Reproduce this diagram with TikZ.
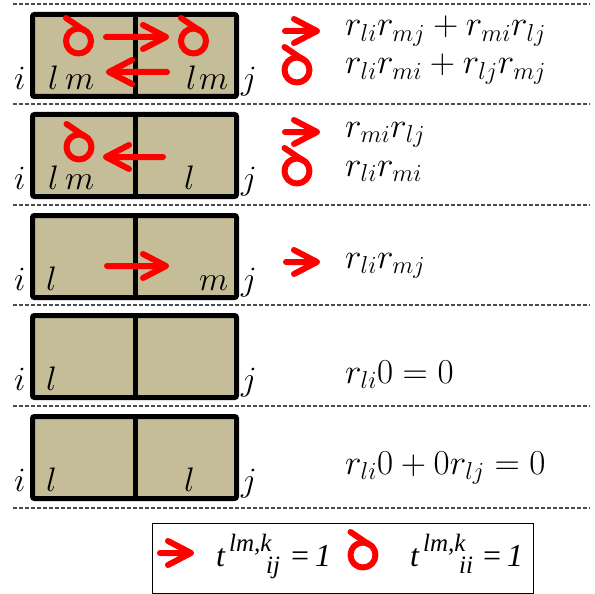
\RequirePackage{fix-cm}
\documentclass[tikz,border=0pt]{standalone}
\usepackage{fontspec}
\newfontfamily\tnr{Liberation Serif}
\definecolor{tan}{HTML}{C4BD97}
\definecolor{iconred}{HTML}{FF0000}
\newcommand\arrR[3]{\draw[icon] (#1,#3) -- (#2,#3) ++(-23,-12) -- (#2,#3) -- ++(-23,12);}
\newcommand\arrL[3]{\draw[icon] (#1,#3) -- (#2,#3) ++(23,-12) -- (#2,#3) -- ++(23,12);}
\newcommand\loopicon[2]{\draw[icon] (#1,#2) circle (12.5); \draw[icon] (#1,#2) ++(-12.5,-23) -- ++(18.5,12.5);}
\newcommand\cellbox[1]{%
  \draw[boxline, fill=tan] (32.5,#1+10.5) rectangle (236.5,#1+92.5);
  \draw[line width=5pt] (135,#1+10.5) -- (135,#1+92.5);}
\begin{document}
\begin{tikzpicture}[x=1pt,y=-1pt,
  icon/.style={draw=iconred, line width=6pt, line cap=round, line join=round},
  boxline/.style={draw=black, line width=5pt, rounded corners=2pt},
  sep/.style={draw=black!70, line width=1.1pt, dash pattern=on 4pt off 2pt},
  lab/.style={anchor=base west, inner sep=0pt, font=\fontsize{34}{40}\selectfont},
  eq/.style={anchor=base west, inner sep=0pt, font=\fontsize{35}{40}\selectfont},
  leg/.style={anchor=base west, inner sep=0pt, font=\tnr\itshape\fontsize{32}{36}\selectfont},
  legs/.style={anchor=base west, inner sep=0pt, font=\tnr\itshape\fontsize{25}{28}\selectfont}]
\useasboundingbox (0,0) rectangle (595,594);
% separators
\foreach \d in {4,104,205,305,406,508} {\draw[sep] (13,\d) -- (590,\d);}
% boxes
\cellbox{4}
\cellbox{104}
\cellbox{205}
\cellbox{305}
\cellbox{406}
% row 1
\node[lab] (i1) at (14,89) {$i$};
\node[lab] (l1a) at (48,89) {$l$};
\node[lab] (m1a) at (65,89) {$m$};
\node[lab] (l1b) at (186,89) {$l$};
\node[lab] (m1b) at (199,89) {$m$};
\node[lab] (j1) at (241,89) {$j$};
\loopicon{78.5}{41}
\loopicon{193.5}{41}
\arrR{106}{166}{37}
\arrL{167}{109}{72}
\arrR{285}{317}{31}
\loopicon{297}{70}
\node[eq] (e1a) at (345,36) {$r_{li}r_{mj}+r_{mi}r_{lj}$};
\node[eq] (e1b) at (345,74) {$r_{li}r_{mi}+r_{lj}r_{mj}$};
% row 2
\node[lab] (i2) at (14,189) {$i$};
\node[lab] (l2a) at (48,189) {$l$};
\node[lab] (m2a) at (65,189) {$m$};
\node[lab] (l2b) at (184,189) {$l$};
\node[lab] (j2) at (241,189) {$j$};
\loopicon{79}{147}
\arrL{163}{106}{157}
\arrR{285}{317}{132}
\loopicon{297}{171}
\node[eq] (e2a) at (345,137) {$r_{mi}r_{lj}$};
\node[eq] (e2b) at (345,176) {$r_{li}r_{mi}$};
% row 3
\node[lab] (i3) at (14,290) {$i$};
\node[lab] (l3a) at (46,290) {$l$};
\node[lab] (m3b) at (199,290) {$m$};
\node[lab] (j3) at (241,290) {$j$};
\arrR{107}{166}{266}
\arrR{286}{317}{262}
\node[eq] (e3) at (345,268) {$r_{li}r_{mj}$};
% row 4
\node[lab] (i4) at (14,390) {$i$};
\node[lab] (l4a) at (46,390) {$l$};
\node[lab] (j4) at (241,390) {$j$};
\node[eq] (e4) at (345,383) {$r_{li}0=0$};
% row 5
\node[lab] (i5) at (14,491) {$i$};
\node[lab] (l5a) at (46,491) {$l$};
\node[lab] (l5b) at (184,491) {$l$};
\node[lab] (j5) at (241,491) {$j$};
\node[eq] (e5) at (345,474) {$r_{li}0+0r_{lj}=0$};
% legend
\draw[line width=1pt] (152,523) rectangle (533,593);
\arrR{160}{191}{553}
\loopicon{363}{555}
\node[leg] (t1) at (216,566) {t};
\node[legs] (t1sup) at (229,551) {lm,k};
\node[legs] (t1sub) at (266,573) {ij};
\node[leg, font=\tnr\fontsize{32}{36}\selectfont] (t1eq) at (291,566) {=};
\node[leg] (t1one) at (315,566) {1};
\node[leg] (t2) at (410,566) {t};
\node[legs] (t2sup) at (423,551) {lm,k};
\node[legs] (t2sub) at (459,573) {ii};
\node[leg, font=\tnr\fontsize{32}{36}\selectfont] (t2eq) at (483,566) {=};
\node[leg] (t2one) at (507,566) {1};
\end{tikzpicture}
\end{document}
